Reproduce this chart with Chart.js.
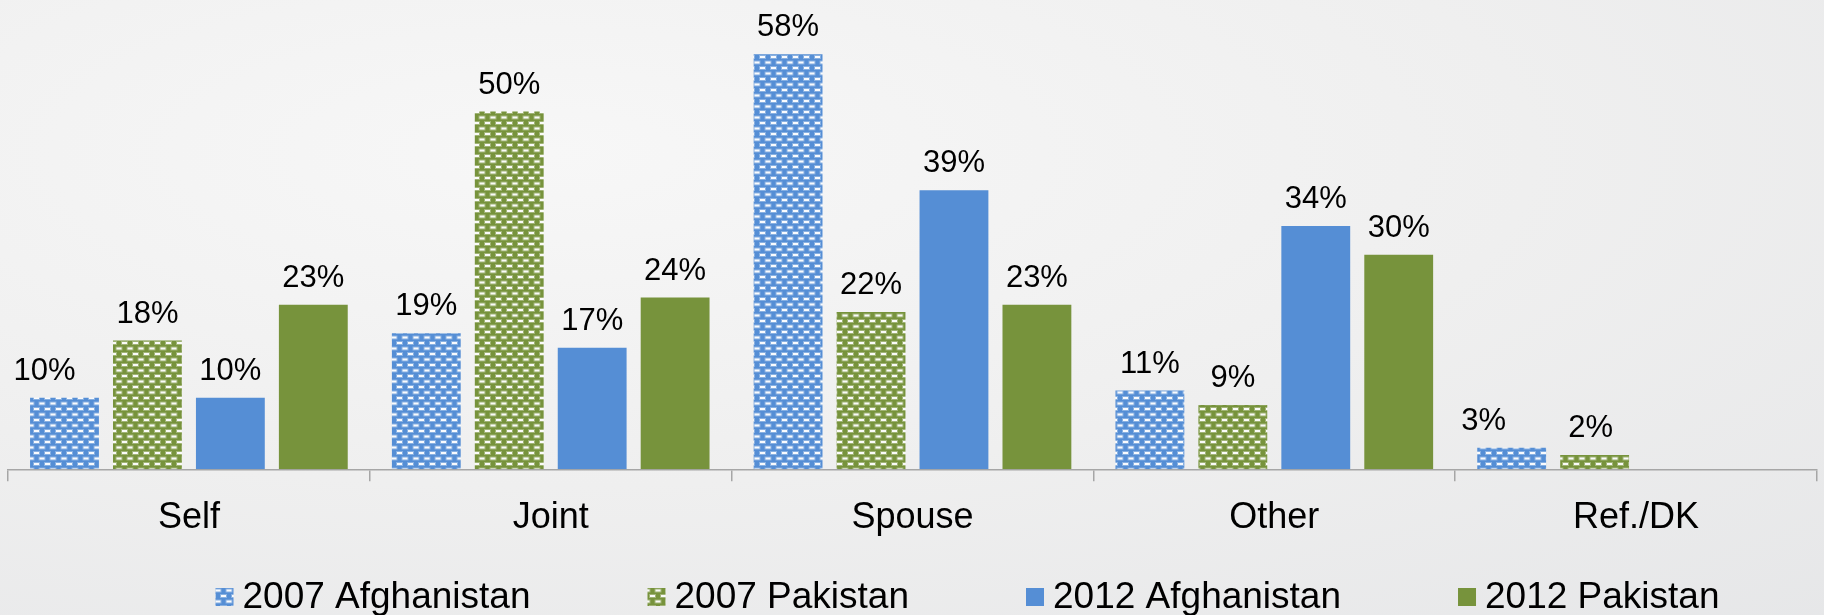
<!DOCTYPE html>
<html>
<head>
<meta charset="utf-8">
<script src="https://cdn.jsdelivr.net/npm/chart.js@4/dist/chart.umd.min.js"></script>
<style>
  html, body { margin: 0; padding: 0; }
  body {
    width: 1824px; height: 615px; overflow: hidden;
    background: radial-gradient(ellipse 120% 120% at 30% 25%, #f7f7f7 0%, #efefef 45%, #e3e4e6 100%);
  }
  canvas { display: block; }
</style>
</head>
<body>
<canvas id="c" width="1824" height="615"></canvas>
<script>
// ---- Data ----
const categories = ["Self", "Joint", "Spouse", "Other", "Ref./DK"];
const seriesNames = ["2007 Afghanistan", "2007 Pakistan", "2012 Afghanistan", "2012 Pakistan"];
const values2007Afghanistan = [10, 19, 58, 11, 3];
const values2007Pakistan = [18, 50, 22, 9, 2];
const values2012Afghanistan = [10, 17, 39, 34, null];
const values2012Pakistan = [23, 24, 23, 30, null];

// ---- Styles ----
const BLUE = "#558ED5";
const GREEN = "#77933C";
const FONT = "'Liberation Sans', Arial, Helvetica, sans-serif";
// manual horizontal nudges of a few value labels, as placed in the original (px)
const labelNudges = { "0-0": -20, "0-4": -28, "1-4": -4 };

function makePattern(base) {
  const t = document.createElement("canvas");
  t.width = 11; t.height = 11;
  const g = t.getContext("2d");
  g.fillStyle = base;
  g.fillRect(0, 0, 11, 11);
  g.fillStyle = "rgba(255,255,255,0.3)";
  g.fillRect(0, 0, 7, 4);
  g.fillRect(5.5, 5.5, 7, 4);
  g.fillRect(-5.5, 5.5, 7, 4);
  g.fillStyle = "rgba(255,255,255,0.95)";
  g.fillRect(1, 1, 5, 2);
  g.fillRect(6.5, 6.5, 5, 2);
  g.fillRect(-4.5, 6.5, 5, 2);
  return g.createPattern(t, "repeat");
}

const fills = [makePattern(BLUE), makePattern(GREEN), BLUE, GREEN];
const seriesValues = [values2007Afghanistan, values2007Pakistan, values2012Afghanistan, values2012Pakistan];

// Data labels above bars
const barLabels = {
  id: "barLabels",
  afterDatasetsDraw(chart) {
    const ctx = chart.ctx;
    ctx.save();
    ctx.font = "31px " + FONT;
    ctx.fillStyle = "#000";
    ctx.textAlign = "center";
    ctx.textBaseline = "alphabetic";
    chart.data.datasets.forEach((ds, di) => {
      const meta = chart.getDatasetMeta(di);
      meta.data.forEach((el, i) => {
        const v = ds.data[i];
        if (v === null || v === undefined) return;
        const dx = labelNudges[di + "-" + i] || 0;
        ctx.fillText(v + "%", el.x + dx, el.y - 18);
      });
    });
    ctx.restore();
  }
};

// Custom legend (bottom)
const bottomLegend = {
  id: "bottomLegend",
  afterDraw(chart) {
    const ctx = chart.ctx;
    ctx.save();
    ctx.font = "37px " + FONT;
    const box = 18, boxGap = 9, itemGap = 117;
    const widths = chart.data.datasets.map(ds => box + boxGap + ctx.measureText(ds.label).width);
    const total = widths.reduce((a, b) => a + b, 0) + itemGap * (widths.length - 1);
    const centerX = (chart.chartArea.left + chart.chartArea.right) / 2 + 55;
    let x = centerX - total / 2;
    const baseline = 608;
    chart.data.datasets.forEach((ds, i) => {
      ctx.fillStyle = ds.backgroundColor;
      ctx.fillRect(x, 588, box, box);
      ctx.fillStyle = "#000";
      ctx.textAlign = "left";
      ctx.textBaseline = "alphabetic";
      ctx.fillText(ds.label, x + box + boxGap, baseline);
      x += widths[i] + itemGap;
    });
    ctx.restore();
  }
};

new Chart(document.getElementById("c"), {
  type: "bar",
  data: {
    labels: categories,
    datasets: seriesNames.map((name, i) => ({
      label: name,
      data: seriesValues[i],
      backgroundColor: fills[i],
      borderWidth: 0,
      categoryPercentage: 0.917,
      barPercentage: 0.83
    }))
  },
  options: {
    responsive: false,
    animation: false,
    events: [],
    layout: { padding: { left: 8, right: 7, top: 40, bottom: 60.5 } },
    plugins: {
      legend: { display: false },
      tooltip: { enabled: false }
    },
    scales: {
      y: {
        display: false,
        min: 0,
        max: 60
      },
      x: {
        offset: true,
        border: { display: true, color: "#a6a6a6", width: 1.5 },
        grid: {
          offset: true,
          drawOnChartArea: false,
          drawTicks: true,
          tickLength: 12,
          color: "#a6a6a6",
          lineWidth: 1.5
        },
        ticks: {
          color: "#000",
          font: { size: 36, family: FONT },
          padding: 15,
          maxRotation: 0
        }
      }
    }
  },
  plugins: [barLabels, bottomLegend]
});
</script>
</body>
</html>
